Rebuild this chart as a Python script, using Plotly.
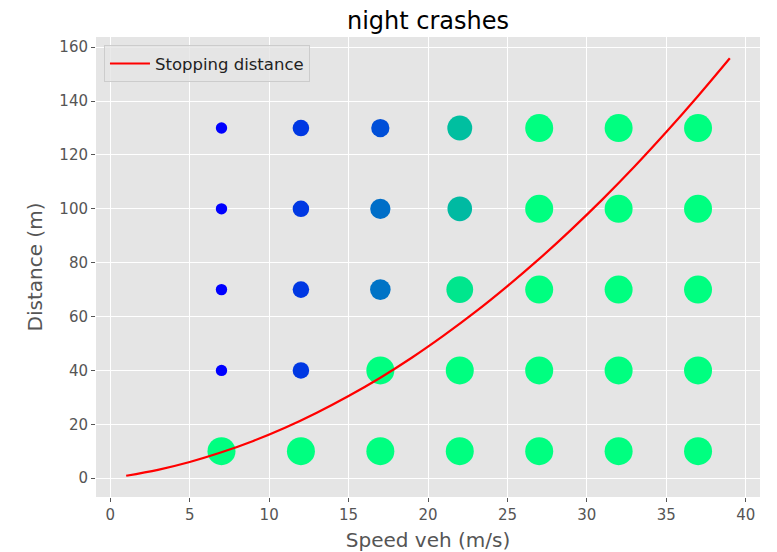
import numpy as np
import plotly.graph_objects as go

# Grid of speed / distance bins and the night-crash intensity in each cell (0..1)
speeds = [7, 12, 17, 22, 27, 32, 37]
distances = [10, 40, 70, 100, 130]
# rows follow `distances`, columns follow `speeds`
intensity = [
    [1.00, 1.00, 1.00, 1.00, 1.00, 1.00, 1.00],   # 10 m
    [0.00, 0.22, 1.00, 1.00, 1.00, 1.00, 1.00],   # 40 m
    [0.00, 0.22, 0.45, 0.90, 1.00, 1.00, 1.00],   # 70 m
    [0.00, 0.22, 0.43, 0.73, 1.00, 1.00, 1.00],   # 100 m
    [0.00, 0.22, 0.31, 0.75, 1.00, 1.00, 1.00],   # 130 m
]

# Stopping distance curve
curve_speed = [1, 3, 5, 7, 9, 11, 13, 15, 17, 19, 21, 23, 25, 27, 29, 31, 33, 35, 37, 39]
curve_dist = [0.9, 3.1, 6.0, 9.6, 13.8, 18.7, 24.3, 30.5, 37.3, 44.8, 53.0, 61.8,
              71.3, 81.4, 92.2, 103.6, 115.7, 128.5, 141.9, 155.9]

xs, ys, cs = [], [], []
for j, d in enumerate(distances):
    for i, v in enumerate(speeds):
        xs.append(v)
        ys.append(d)
        cs.append(intensity[j][i])
cs = np.array(cs)
# marker area grows linearly with intensity
diam = np.sqrt(130 + 654 * cs)

grey = "#555555"
fig = go.Figure()
fig.add_trace(go.Scatter(
    x=xs, y=ys, mode="markers", showlegend=False, hoverinfo="skip",
    marker=dict(size=diam, color=cs, cmin=0, cmax=1,
                colorscale=[[0, "#0000ff"], [1, "#00ff80"]],
                line=dict(width=0), opacity=1),
))
fig.add_trace(go.Scatter(
    x=curve_speed, y=curve_dist, mode="lines", name="Stopping distance",
    line=dict(color="#ff0000", width=2.2, shape="spline"),
))

fig.update_layout(
    width=777, height=552,
    margin=dict(l=96, r=17, t=37, b=55),
    paper_bgcolor="white", plot_bgcolor="#e5e5e5",
    font=dict(family="DejaVu Sans", color=grey, size=15),
    title=dict(text="night crashes", xref="paper", x=0.5, xanchor="center",
               y=0.963, yanchor="middle", font=dict(size=24, color="black")),
    legend=dict(x=0.012, y=0.982, xanchor="left", yanchor="top", itemwidth=40,
                bgcolor="rgba(229,229,229,0.8)", bordercolor="#cccccc", borderwidth=1,
                font=dict(size=16.5, color="#222222")),
)
fig.update_xaxes(
    range=[-0.9, 40.9], tickmode="array", tickvals=list(range(0, 41, 5)),
    showgrid=True, gridcolor="white", gridwidth=1.2, zeroline=False,
    ticks="outside", ticklen=4, tickcolor=grey, tickfont=dict(size=15, color=grey),
    title=dict(text="Speed veh (m/s)", font=dict(size=20, color=grey), standoff=9),
    showline=False, automargin=False,
)
fig.update_yaxes(
    range=[-7, 163.8], tickmode="array", tickvals=list(range(0, 161, 20)),
    showgrid=True, gridcolor="white", gridwidth=1.2, zeroline=False,
    ticks="outside", ticklen=4, tickcolor=grey, tickfont=dict(size=15, color=grey),
    title=dict(text="Distance (m)", font=dict(size=20, color=grey), standoff=11),
    showline=False, automargin=False,
)

fig.write_html("out.html")
